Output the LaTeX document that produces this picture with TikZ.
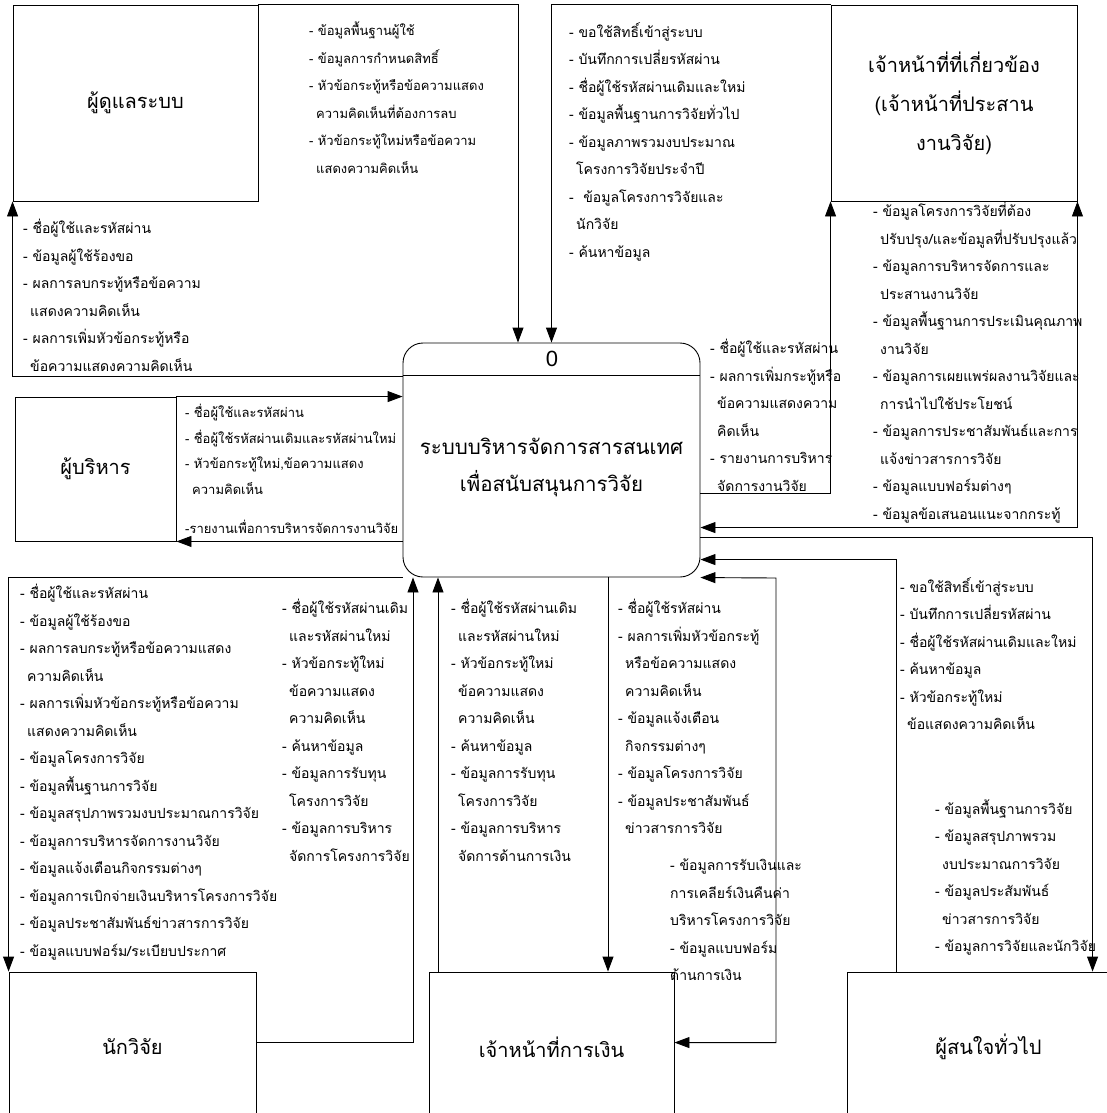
\documentclass[tikz,border=0pt]{standalone}
\usepackage{fontspec}
\newfontfamily\thaifont[Script=Thai]{Loma}
\newfontfamily\numfont{Liberation Sans}
\usepackage{tikz}
\usetikzlibrary{arrows.meta, positioning, calc}

\newcommand{\lblfont}{\thaifont\fontsize{14}{27.5}\selectfont}
\newcommand{\smlblfont}{\thaifont\fontsize{13}{25.5}\selectfont}
\newcommand{\ind}{\hspace*{7pt}}

\begin{document}
\begin{tikzpicture}[x=1pt, y=-1pt,
    entity/.style={draw, line width=0.9pt, inner sep=0pt, align=center,
        font=\thaifont\fontsize{20}{39}\selectfont},
    process/.style={draw, line width=0.9pt, rounded corners=20pt, inner sep=0pt},
    flow/.style={line width=0.9pt, -{Triangle[length=15pt,width=11pt]}},
    flowboth/.style={flow, {Triangle[length=15pt,width=11pt]}-{Triangle[length=15pt,width=11pt]}},
    lbl/.style={anchor=north west, inner sep=0pt, align=left, font=\lblfont,
        execute at begin node=\strut}]

    \useasboundingbox (0,0) rectangle (1107,1113);
    \fill[white] (0,0) rectangle (1107,1113);
    \clip (0,0) rectangle (1107,1113);

    % external entities
    \node[entity, minimum width=245pt, minimum height=196pt] (admin) at (135.5,103) {ผู้ดูแลระบบ};
    \node[entity, minimum width=246pt, minimum height=196pt] (staff) at (954,103) {เจ้าหน้าที่ที่เกี่ยวข้อง\\(เจ้าหน้าที่ประสาน\\งานวิจัย)};
    \node[entity, minimum width=161pt, minimum height=144pt] (exec) at (95.5,469) {ผู้บริหาร};
    \node[entity, minimum width=247pt, minimum height=150pt] (res) at (132.5,1047) {นักวิจัย};
    \node[entity, minimum width=245pt, minimum height=150pt] (fin) at (551.5,1047) {เจ้าหน้าที่การเงิน};
    \node[entity, minimum width=283pt, minimum height=150pt] (pub) at (988.5,1047) {ผู้สนใจทั่วไป};

    % process 0
    \node[process, minimum width=297pt, minimum height=234pt] (proc) at (551.5,460) {};
    \draw[line width=0.9pt] ([yshift=-33pt]proc.north west) -- ([yshift=-33pt]proc.north east);
    \node[font=\numfont\fontsize{22}{24}\selectfont] (procid) at (552,359) {0};
    \node[align=center, font=\thaifont\fontsize{20.5}{37}\selectfont] (proctitle) at (551.5,467)
        {ระบบบริหารจัดการสารสนเทศ\\เพื่อสนับสนุนการวิจัย};

    % data flows
    \draw[flow] (admin.north east) -| ([xshift=-33.5pt]proc.north);
    \draw[flow] ([yshift=-34pt]proc.north west) -| (admin.south west);
    \draw[flow] (staff.north west) -| (proc.north);
    \draw[flow] (exec.north east) -- (exec.north east -| proc.west);
    \draw[flow] (proc.west |- exec.south east) -- (exec.south east);
    \draw[flow] ([yshift=-151pt]proc.north east) -| (staff.south west);
    \draw[flowboth] (staff.south east) |- ([yshift=-185pt]proc.north east);
    \draw[flow] ([yshift=-195pt]proc.north east) -| ([xshift=246pt]pub.north west);
    \draw[flow] ([xshift=50pt]pub.north west) |- ([yshift=-217pt]proc.north east);
    \coordinate (finbend) at (776,578);
    \draw[flowboth] ([yshift=-71pt]fin.north east) -| (finbend) -- ([yshift=-235pt]proc.north east);
    \draw[flow] ([xshift=56.5pt]proc.south) -- ([xshift=56.5pt]fin.north);
    \draw[flow] ([xshift=-113.5pt]fin.north) -- ([xshift=-113.5pt]proc.south);
    \draw[flow] ([yshift=-71pt]res.north east) -| ([xshift=-138.5pt]proc.south);
    \draw[flow] (proc.south west) -| (res.north west);

    % flow labels
    \node[lbl, font=\smlblfont, execute at begin node=\rule{0pt}{19.25pt}] (a1) at (309,22) {- ข้อมูลพื้นฐานผู้ใช้\\[2pt]- ข้อมูลการกำหนดสิทธิ์\\[2pt]- หัวข้อกระทู้หรือข้อความแสดง\\[2pt]\ind ความคิดเห็นที่ต้องการลบ\\[2pt]- หัวข้อกระทู้ใหม่หรือข้อความ\\[2pt]\ind แสดงความคิดเห็น};
    \node[lbl] (a2) at (23,219) {- ชื่อผู้ใช้และรหัสผ่าน\\- ข้อมูลผู้ใช้ร้องขอ\\- ผลการลบกระทู้หรือข้อความ\\\ind แสดงความคิดเห็น\\- ผลการเพิ่มหัวข้อกระทู้หรือ\\\ind ข้อความแสดงความคิดเห็น};
    \node[lbl] (s1) at (569,22) {- ขอใช้สิทธิ์เข้าสู่ระบบ\\- บันทึกการเปลี่ยรหัสผ่าน\\- ชื่อผู้ใช้รหัสผ่านเดิมและใหม่\\- ข้อมูลพื้นฐานการวิจัยทั่วไป\\- ข้อมูลภาพรวมงบประมาณ\\\ind โครงการวิจัยประจำปี\\-\ \ ข้อมูลโครงการวิจัยและ\\\ind นักวิจัย\\- ค้นหาข้อมูล};
    \node[lbl, font=\smlblfont, execute at begin node=\rule{0pt}{19.25pt}] (e1) at (185,404) {- ชื่อผู้ใช้และรหัสผ่าน\\- ชื่อผู้ใช้รหัสผ่านเดิมและรหัสผ่านใหม่\\- หัวข้อกระทู้ใหม่,ข้อความแสดง\\\ind ความคิดเห็น};
    \node[lbl, font=\smlblfont, execute at begin node=\rule{0pt}{19.25pt}] (e2) at (185,514) {-รายงานเพื่อการบริหารจัดการงานวิจัย};
    \node[lbl] (s2) at (710,339) {- ชื่อผู้ใช้และรหัสผ่าน\\- ผลการเพิ่มกระทู้หรือ\\\ind ข้อความแสดงความ\\\ind คิดเห็น\\- รายงานการบริหาร\\\ind จัดการงานวิจัย};
    \node[lbl] (s3) at (873,202) {- ข้อมูลโครงการวิจัยที่ต้อง\\\ind ปรับปรุง/และข้อมูลที่ปรับปรุงแล้ว\\- ข้อมูลการบริหารจัดการและ\\\ind ประสานงานวิจัย\\- ข้อมูลพื้นฐานการประเมินคุณภาพ\\\ind งานวิจัย\\- ข้อมูลการเผยแพร่ผลงานวิจัยและ\\\ind การนำไปใช้ประโยชน์\\- ข้อมูลการประชาสัมพันธ์และการ\\\ind แจ้งข่าวสารการวิจัย\\- ข้อมูลแบบฟอร์มต่างๆ\\- ข้อมูลข้อเสนอนแนะจากกระทู้};
    \node[lbl] (r1) at (20,584) {- ชื่อผู้ใช้และรหัสผ่าน\\- ข้อมูลผู้ใช้ร้องขอ\\- ผลการลบกระทู้หรือข้อความแสดง\\\ind ความคิดเห็น\\- ผลการเพิ่มหัวข้อกระทู้หรือข้อความ\\\ind แสดงความคิดเห็น\\- ข้อมูลโครงการวิจัย\\- ข้อมูลพื้นฐานการวิจัย\\- ข้อมูลสรุปภาพรวมงบประมาณการวิจัย\\- ข้อมูลการบริหารจัดการงานวิจัย\\- ข้อมูลแจ้งเตือนกิจกรรมต่างๆ\\- ข้อมูลการเบิกจ่ายเงินบริหารโครงการวิจัย\\- ข้อมูลประชาสัมพันธ์ข่าวสารการวิจัย\\- ข้อมูลแบบฟอร์ม/ระเบียบประกาศ};
    \node[lbl] (r2) at (282,599) {- ชื่อผู้ใช้รหัสผ่านเดิม\\\ind และรหัสผ่านใหม่\\- หัวข้อกระทู้ใหม่\\\ind ข้อความแสดง\\\ind ความคิดเห็น\\- ค้นหาข้อมูล\\- ข้อมูลการรับทุน\\\ind โครงการวิจัย\\- ข้อมูลการบริหาร\\\ind จัดการโครงการวิจัย};
    \node[lbl] (f1) at (451,599) {- ชื่อผู้ใช้รหัสผ่านเดิม\\\ind และรหัสผ่านใหม่\\- หัวข้อกระทู้ใหม่\\\ind ข้อความแสดง\\\ind ความคิดเห็น\\- ค้นหาข้อมูล\\- ข้อมูลการรับทุน\\\ind โครงการวิจัย\\- ข้อมูลการบริหาร\\\ind จัดการด้านการเงิน};
    \node[lbl] (f2) at (618,599) {- ชื่อผู้ใช้รหัสผ่าน\\- ผลการเพิ่มหัวข้อกระทู้\\\ind หรือข้อความแสดง\\\ind ความคิดเห็น\\- ข้อมูลแจ้งเตือน\\\ind กิจกรรมต่างๆ\\- ข้อมูลโครงการวิจัย\\- ข้อมูลประชาสัมพันธ์\\\ind ข่าวสารการวิจัย};
    \node[lbl] (f3) at (670,859) {- ข้อมูลการรับเงินและ\\การเคลียร์เงินคืนค่า\\บริหารโครงการวิจัย\\- ข้อมูลแบบฟอร์ม\\ด้านการเงิน};
    \node[lbl] (p1) at (900,577) {- ขอใช้สิทธิ์เข้าสู่ระบบ\\- บันทึกการเปลี่ยรหัสผ่าน\\- ชื่อผู้ใช้รหัสผ่านเดิมและใหม่\\- ค้นหาข้อมูล\\- หัวข้อกระทู้ใหม่\\\ind ข้อแสดงความคิดเห็น};
    \node[lbl] (p2) at (935,799) {- ข้อมูลพื้นฐานการวิจัย\\- ข้อมูลสรุปภาพรวม\\\ind งบประมาณการวิจัย\\- ข้อมูลประสัมพันธ์\\\ind ข่าวสารการวิจัย\\- ข้อมูลการวิจัยและนักวิจัย};
\end{tikzpicture}
\end{document}
